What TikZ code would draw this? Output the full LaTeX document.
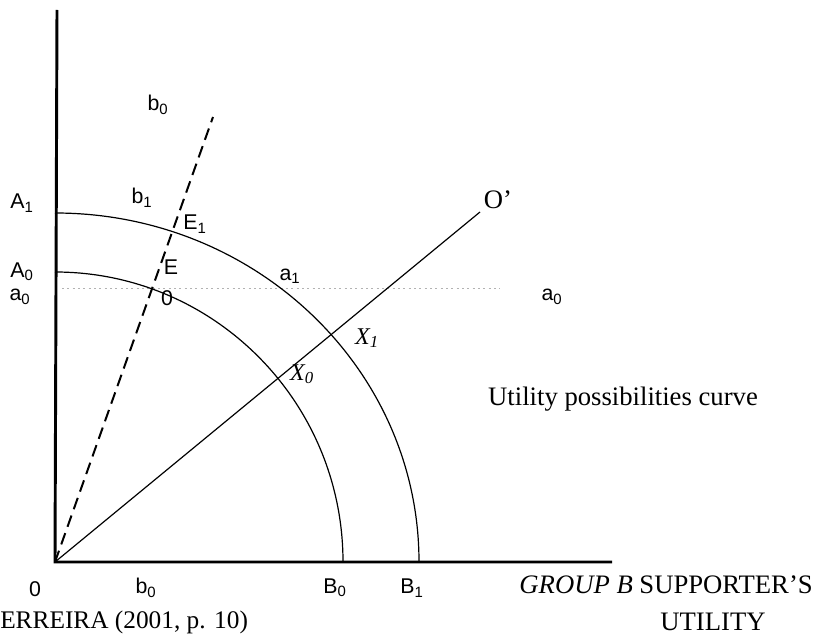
\documentclass[tikz,border=0pt]{standalone}
\usepackage{fontspec}
\setmainfont{Liberation Serif}
\newfontfamily\lsans{Liberation Sans}
\newcommand\lsub[1]{\textsubscript{#1}}
\begin{document}
\begin{tikzpicture}[x=0.75pt,y=-0.75pt,
  axis/.style={line width=2.2pt},
  curve/.style={line width=0.9pt},
  ray/.style={line width=0.9pt},
  dashray/.style={line width=1.5pt,dash pattern=on 9pt off 5pt},
  faint/.style={gray!60,line width=0.6pt,dash pattern=on 1.5pt off 2.5pt},
  lab/.style={font=\lsans\fontsize{16}{18}\selectfont,inner sep=0pt},
  slab/.style={font=\fontsize{20}{22}\selectfont,inner sep=0pt},
  ilab/.style={font=\itshape\fontsize{18}{20}\selectfont,inner sep=0pt}]
\useasboundingbox (0,0) rectangle (815,638);
% axes
\coordinate (O) at (55,562);
\coordinate (ytop) at (57,10);
\coordinate (xend) at (612,562);
\draw[axis] (ytop) -- (O) -- (xend);
% faint dotted line
\coordinate (d1) at (62,288);
\coordinate (d2) at (500,288);
\draw[faint] (d1) -- (d2);
% utility possibility curves (quarter ellipses)
\coordinate (A1) at (55,213);
\coordinate (A0) at (55,272);
\draw[curve] (A1) arc[start angle=-90,end angle=0,x radius=364,y radius=349];
\draw[curve] (A0) arc[start angle=-90,end angle=0,x radius=288,y radius=290];
% rays
\coordinate (Otop) at (480,212);
\coordinate (Dtop) at (213,117);
\draw[ray] (O) -- (Otop);
\draw[dashray] (O) -- (Dtop);
% labels
\node[lab] (lb0t) at (158,105) {b\lsub{0}};
\node[lab] (lA1) at (22,203) {A\lsub{1}};
\node[lab] (lb1) at (142,198) {b\lsub{1}};
\node[lab] (lE1) at (195,224) {E\lsub{1}};
\node[lab] (lA0) at (22,272) {A\lsub{0}};
\node[lab] (lE) at (171,267) {E};
\node[lab] (la0) at (20,297) {a\lsub{0}};
\node[lab] (lE0) at (167,298) {0};
\node[lab] (la1) at (290,276) {a\lsub{1}};
\node[lab] (la0r) at (552,297) {a\lsub{0}};
\node[ilab] (lX1) at (367,338) {X\lsub{1}};
\node[ilab] (lX0) at (302,374) {X\lsub{0}};
\node[slab] (lOp) at (498,200) {O'};
\node[slab] (util) at (623,399) {Utility possibilities curve};
\node[lab] (l0) at (35,589) {0};
\node[lab] (lb0) at (146,588) {b\lsub{0}};
\node[lab] (lB0) at (335,588) {B\lsub{0}};
\node[lab] (lB1) at (412,588) {B\lsub{1}};
\node[slab,anchor=east] (grp) at (813,585) {\textit{GROUP B} SUPPORTER'S};
\node[slab] (utl) at (713,622) {UTILITY};
\node[slab,font=\fontsize{19}{21}\selectfont,anchor=west] (src) at (0,622) {ERREIRA (2001, p. 10)};
\end{tikzpicture}
\end{document}
